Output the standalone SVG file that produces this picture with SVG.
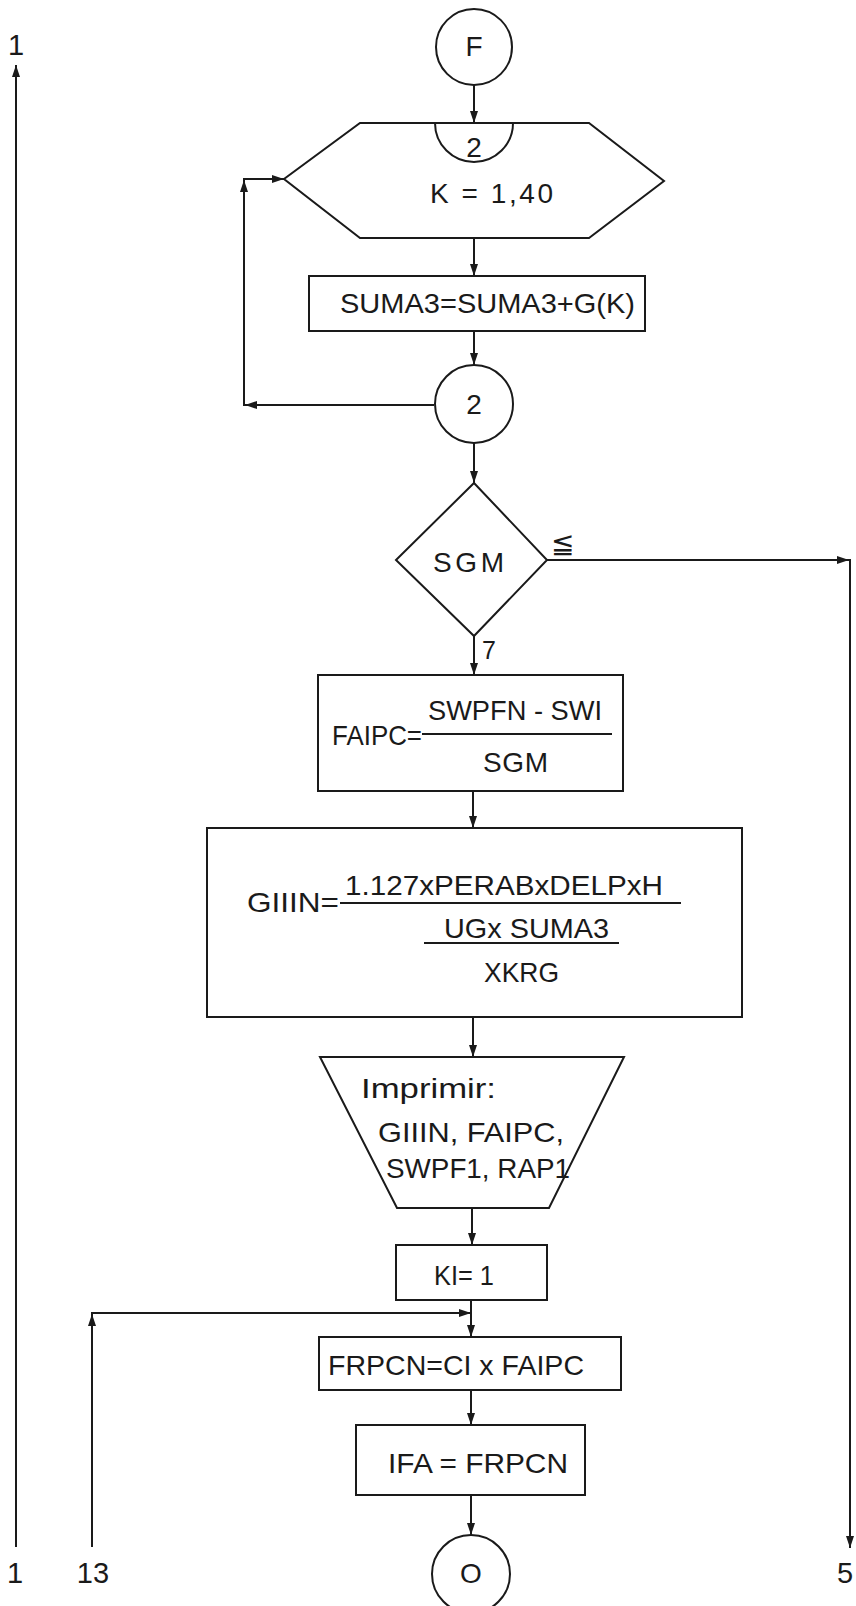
<svg xmlns="http://www.w3.org/2000/svg" width="856" height="1606" viewBox="0 0 856 1606">
<style>
.s{fill:none;stroke:#1a1a1a;stroke-width:2}
.t{font-family:"Liberation Sans",Arial,sans-serif;font-size:28px;fill:#1a1a1a}
.c{text-anchor:middle}
</style>
<defs>
<marker id="a" viewBox="0 0 12 8" refX="12" refY="4" markerWidth="12" markerHeight="8" markerUnits="userSpaceOnUse" orient="auto">
<path d="M0,0 L12,4 L0,8 Z" fill="#1a1a1a"/>
</marker>
</defs>
<rect width="856" height="1606" fill="#fff"/>

<g id="connectors" class="s">
<line x1="474" y1="85" x2="474" y2="123" marker-end="url(#a)"/>
<line x1="474" y1="238" x2="474" y2="276" marker-end="url(#a)"/>
<line x1="474" y1="331" x2="474" y2="365" marker-end="url(#a)"/>
<line x1="434" y1="405" x2="245" y2="405" marker-end="url(#a)"/>
<line x1="244" y1="406" x2="244" y2="180" marker-end="url(#a)"/>
<line x1="243" y1="179" x2="284" y2="179" marker-end="url(#a)"/>
<line x1="474" y1="443" x2="474" y2="483" marker-end="url(#a)"/>
<line x1="474" y1="636" x2="474" y2="675" marker-end="url(#a)"/>
<line x1="547" y1="560" x2="849" y2="560" marker-end="url(#a)"/>
<line x1="850" y1="559" x2="850" y2="1548" marker-end="url(#a)"/>
<line x1="473" y1="791" x2="473" y2="828" marker-end="url(#a)"/>
<line x1="473" y1="1017" x2="473" y2="1057" marker-end="url(#a)"/>
<line x1="472" y1="1208" x2="472" y2="1245" marker-end="url(#a)"/>
<line x1="471" y1="1300" x2="471" y2="1337" marker-end="url(#a)"/>
<line x1="92" y1="1547" x2="92" y2="1314" marker-end="url(#a)"/>
<line x1="91" y1="1313" x2="471" y2="1313" marker-end="url(#a)"/>
<line x1="471" y1="1390" x2="471" y2="1425" marker-end="url(#a)"/>
<line x1="471" y1="1495" x2="471" y2="1535" marker-end="url(#a)"/>
<line x1="16" y1="1547" x2="16" y2="65" marker-end="url(#a)"/>
</g>

<g id="labels" class="t">
<text x="16" y="55" class="c" font-size="29">1</text>
<text x="15" y="1583" class="c" font-size="29">1</text>
<text x="93" y="1583" class="c" font-size="29">13</text>
<text x="845" y="1583" class="c" font-size="29">5</text>
<text x="551" y="553" font-size="28">≦</text>
<text x="482" y="659" font-size="25">7</text>
</g>

<g id="F">
<circle cx="474" cy="47" r="38" class="s"/>
<text x="474" y="56" class="t c" font-size="25">F</text>
</g>

<g id="loop">
<polygon points="360,123 589,123 664,181 589,238 360,238 284,179" class="s"/>
<path d="M435,123 A39,39 0 0 0 513,123" class="s"/>
<text x="474" y="157" class="t c" font-size="22">2</text>
<text x="430" y="203" class="t" font-size="25" textLength="123" lengthAdjust="spacing">K = 1,40</text>
</g>

<g id="suma3">
<rect x="309" y="276" width="336" height="55" class="s"/>
<text x="340" y="313" class="t" textLength="295" lengthAdjust="spacingAndGlyphs">SUMA3=SUMA3+G(K)</text>
</g>

<g id="c2">
<circle cx="474" cy="404" r="39" class="s"/>
<text x="474" y="414" class="t c" font-size="26">2</text>
</g>

<g id="sgm">
<polygon points="474,483 547,560 474,636 396,560" class="s"/>
<text x="433" y="572" class="t" textLength="71" lengthAdjust="spacing">SGM</text>
</g>

<g id="faipc">
<rect x="318" y="675" width="305" height="116" class="s"/>
<text x="332" y="745" class="t" textLength="90" lengthAdjust="spacingAndGlyphs">FAIPC=</text>
<line x1="422" y1="734" x2="612" y2="734" class="s"/>
<text x="428" y="720" class="t" textLength="174" lengthAdjust="spacingAndGlyphs">SWPFN - SWI</text>
<text x="483" y="772" class="t" textLength="65" lengthAdjust="spacing">SGM</text>
</g>

<g id="giiin">
<rect x="207" y="828" width="535" height="189" class="s"/>
<text x="247" y="912" class="t" textLength="92" lengthAdjust="spacingAndGlyphs">GIIIN=</text>
<line x1="340" y1="903" x2="681" y2="903" class="s"/>
<text x="345" y="895" class="t" textLength="318" lengthAdjust="spacingAndGlyphs">1.127xPERABxDELPxH</text>
<text x="444" y="938" class="t" textLength="165" lengthAdjust="spacingAndGlyphs">UGx SUMA3</text>
<line x1="424" y1="943" x2="619" y2="943" class="s"/>
<text x="484" y="982" class="t" textLength="75" lengthAdjust="spacingAndGlyphs">XKRG</text>
</g>

<g id="imprimir">
<polygon points="320,1057 624,1057 549,1208 397,1208" class="s"/>
<text x="361" y="1098" class="t" textLength="135" lengthAdjust="spacingAndGlyphs">Imprimir:</text>
<text x="378" y="1142" class="t" textLength="186" lengthAdjust="spacingAndGlyphs">GIIIN, FAIPC,</text>
<text x="386" y="1178" class="t" textLength="184" lengthAdjust="spacingAndGlyphs">SWPF1, RAP1</text>
</g>

<g id="ki">
<rect x="396" y="1245" width="151" height="55" class="s"/>
<text x="434" y="1285" class="t" textLength="60" lengthAdjust="spacingAndGlyphs">KI= 1</text>
</g>

<g id="frpcn">
<rect x="319" y="1337" width="302" height="53" class="s"/>
<text x="328" y="1375" class="t" textLength="256" lengthAdjust="spacingAndGlyphs">FRPCN=CI x FAIPC</text>
</g>

<g id="ifa">
<rect x="356" y="1425" width="229" height="70" class="s"/>
<text x="388" y="1473" class="t" textLength="180" lengthAdjust="spacingAndGlyphs">IFA = FRPCN</text>
</g>

<g id="O">
<circle cx="471" cy="1574" r="39" class="s"/>
<text x="471" y="1583" class="t c" font-size="26">O</text>
</g>
</svg>
